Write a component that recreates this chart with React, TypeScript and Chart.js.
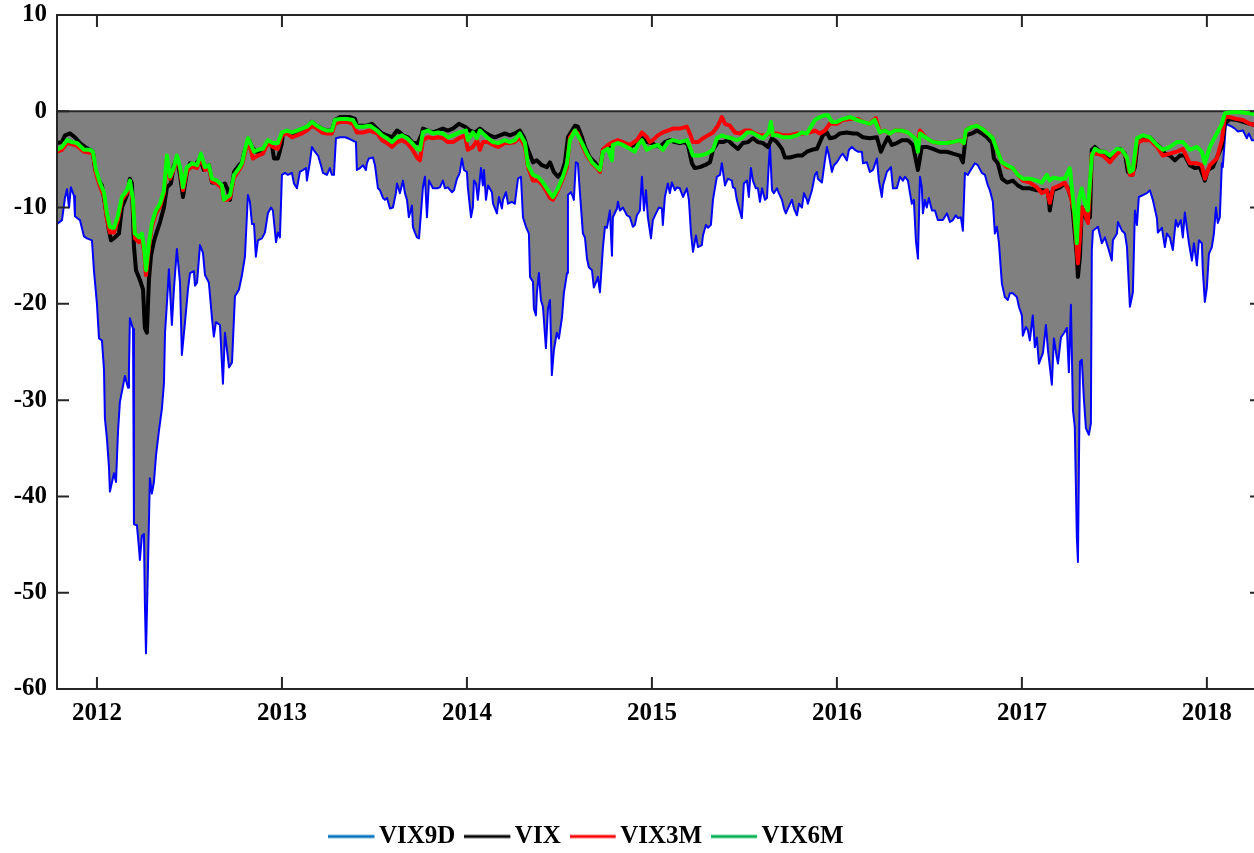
import React, { useEffect, useRef } from 'react';
import { Chart, registerables } from 'chart.js';

Chart.register(...registerables);

const SERIES_NAMES = ['VIX9D', 'VIX', 'VIX3M', 'VIX6M'];
const YEAR_TICKS = [2012, 2013, 2014, 2015, 2016, 2017, 2018];
const VALUE_TICKS = [-60, -50, -40, -30, -20, -10, 0, 10];
const X_MIN = 2011.784;
const X_MAX = 2018.298;

// [decimal year, value]
const VIX9D: [number, number][] = [
  [2011.784,-11.7],[2011.811,-11.3],[2011.827,-9.0],[2011.838,-8.1],[2011.849,-10],[2011.859,-7.9],[2011.876,-8.8],[2011.881,-10.9],[2011.908,-11.3],[2011.930,-13],[2011.946,-13.2],[2011.973,-13.4],[2011.984,-16.6],
  [2012.000,-20],[2012.011,-23.6],[2012.027,-23.8],[2012.038,-26.8],[2012.043,-31.9],[2012.054,-34],[2012.065,-37],[2012.070,-39.5],[2012.092,-37.6],[2012.103,-38.5],[2012.114,-33.2],[2012.124,-30.2],[2012.135,-29.1],[2012.151,-27.5],[2012.168,-28.7],[2012.173,-26.8],[2012.178,-21.5],[2012.195,-22.6],[2012.200,-42.9],[2012.216,-43],[2012.227,-45.3],[2012.232,-46.6],[2012.243,-44.1],[2012.254,-43.9],[2012.259,-51],[2012.265,-56.3],[2012.276,-47.1],[2012.286,-38.1],[2012.297,-39.7],[2012.308,-38.5],[2012.319,-35.8],[2012.335,-33.2],[2012.351,-30.9],[2012.362,-28.3],[2012.368,-23],[2012.378,-20],[2012.389,-16.4],[2012.395,-18.5],[2012.405,-22.2],[2012.416,-18.5],[2012.432,-14.3],[2012.449,-17.8],[2012.459,-25.3],[2012.476,-21.9],[2012.492,-18.5],[2012.503,-16.8],[2012.524,-16.6],[2012.530,-18.1],[2012.541,-17.8],[2012.557,-13.9],[2012.573,-14.7],[2012.584,-17],[2012.605,-17.8],[2012.622,-21.5],[2012.632,-23.4],[2012.643,-21.9],[2012.665,-22.2],[2012.681,-28.3],[2012.692,-23],[2012.714,-26.6],[2012.730,-26.1],[2012.746,-19.2],[2012.768,-18.5],[2012.784,-17],[2012.800,-15.1],[2012.816,-8.7],[2012.827,-9.4],[2012.838,-11.7],[2012.849,-11.7],[2012.859,-15.1],[2012.870,-13.4],[2012.892,-13.2],[2012.908,-12.6],[2012.924,-10.6],[2012.941,-10],[2012.951,-10.3],[2012.968,-13.6],[2012.978,-12.6],[2012.989,-13.1],
  [2013.000,-6.6],[2013.016,-6.4],[2013.032,-6.6],[2013.054,-6.4],[2013.065,-7.5],[2013.081,-8],[2013.097,-6.3],[2013.114,-6.1],[2013.130,-5.9],[2013.135,-7.2],[2013.151,-5.3],[2013.162,-3.7],[2013.178,-4.2],[2013.195,-4.6],[2013.211,-5.6],[2013.222,-6.4],[2013.243,-6.6],[2013.259,-5.9],[2013.270,-6.6],[2013.281,-6.6],[2013.292,-2.8],[2013.314,-2.7],[2013.341,-2.7],[2013.357,-2.8],[2013.378,-3.0],[2013.400,-3.2],[2013.405,-6.1],[2013.422,-5.9],[2013.438,-5.6],[2013.454,-6.1],[2013.459,-5.4],[2013.470,-4.9],[2013.492,-4.8],[2013.503,-5.6],[2013.519,-8],[2013.530,-8.2],[2013.546,-9.0],[2013.557,-9.2],[2013.568,-9.0],[2013.584,-10.1],[2013.600,-10],[2013.616,-8.5],[2013.622,-7.5],[2013.638,-8.5],[2013.654,-7.2],[2013.665,-8.5],[2013.676,-9.2],[2013.686,-11],[2013.703,-9.8],[2013.708,-12],[2013.719,-12.6],[2013.730,-13.1],[2013.741,-13.2],[2013.757,-9.2],[2013.762,-7.9],[2013.773,-6.8],[2013.784,-11],[2013.795,-7.2],[2013.816,-8],[2013.838,-8],[2013.854,-7.9],[2013.870,-7.2],[2013.881,-8],[2013.897,-7.9],[2013.919,-8.4],[2013.930,-8.2],[2013.946,-7.0],[2013.957,-6.6],[2013.962,-6.3],[2013.973,-4.9],[2013.984,-6.1],
  [2014.000,-6.3],[2014.005,-7.9],[2014.022,-11],[2014.032,-10],[2014.038,-7.2],[2014.049,-7.5],[2014.059,-9.2],[2014.076,-5.9],[2014.086,-7.7],[2014.092,-6.1],[2014.103,-9.2],[2014.114,-7.7],[2014.135,-8.4],[2014.141,-9.6],[2014.162,-10.6],[2014.173,-8.9],[2014.189,-10.1],[2014.195,-9.2],[2014.211,-8.4],[2014.222,-9.6],[2014.243,-9.4],[2014.259,-9.6],[2014.276,-7.0],[2014.292,-6.8],[2014.303,-11],[2014.319,-12],[2014.335,-12.7],[2014.341,-17.2],[2014.357,-17.7],[2014.362,-20.5],[2014.373,-21.2],[2014.378,-18.9],[2014.389,-16.8],[2014.400,-19.6],[2014.411,-20.3],[2014.427,-24.6],[2014.438,-20.5],[2014.449,-19.6],[2014.459,-27.4],[2014.470,-24.8],[2014.486,-23],[2014.497,-23.6],[2014.514,-21.4],[2014.524,-18.9],[2014.541,-16.8],[2014.546,-8.7],[2014.562,-8.4],[2014.573,-8.9],[2014.578,-9.2],[2014.589,-5.3],[2014.600,-5.4],[2014.611,-8.5],[2014.627,-12.7],[2014.638,-13.1],[2014.649,-15.3],[2014.659,-16.2],[2014.676,-16.5],[2014.686,-18.3],[2014.703,-17.5],[2014.708,-17.2],[2014.719,-18.8],[2014.735,-14.2],[2014.746,-12],[2014.757,-12.1],[2014.773,-10.3],[2014.784,-15],[2014.789,-11],[2014.811,-10.1],[2014.816,-9.4],[2014.827,-10.3],[2014.843,-10],[2014.865,-10.8],[2014.881,-11],[2014.897,-12],[2014.908,-11.8],[2014.919,-10.8],[2014.935,-10.3],[2014.946,-6.8],[2014.957,-10.3],[2014.968,-8.2],[2014.978,-11],[2014.995,-13.2],
  [2015.005,-11.3],[2015.022,-10.6],[2015.038,-10],[2015.054,-10.1],[2015.059,-11.8],[2015.070,-8.9],[2015.086,-7.5],[2015.097,-8.5],[2015.108,-7.4],[2015.124,-8.2],[2015.135,-7.9],[2015.151,-8],[2015.168,-8.9],[2015.189,-8],[2015.200,-9.2],[2015.211,-12.6],[2015.222,-14.6],[2015.238,-12.9],[2015.249,-14.1],[2015.270,-13.9],[2015.276,-12.9],[2015.292,-11.8],[2015.303,-12.1],[2015.319,-11.8],[2015.330,-9.2],[2015.351,-6.8],[2015.368,-6.6],[2015.378,-5.4],[2015.395,-7.7],[2015.411,-7.0],[2015.432,-7.2],[2015.438,-7.9],[2015.449,-8],[2015.459,-9.2],[2015.470,-10],[2015.486,-11.1],[2015.497,-7.5],[2015.514,-7.2],[2015.524,-8.9],[2015.535,-5.9],[2015.546,-7.2],[2015.562,-8],[2015.573,-8],[2015.584,-9.4],[2015.595,-8],[2015.611,-9.2],[2015.622,-9.0],[2015.632,-5.4],[2015.638,-3.5],[2015.649,-8.2],[2015.659,-8.5],[2015.676,-8],[2015.686,-8.5],[2015.703,-9.2],[2015.714,-10.1],[2015.724,-10.6],[2015.735,-10.1],[2015.757,-9.2],[2015.768,-10.1],[2015.784,-10.8],[2015.795,-9.6],[2015.811,-10],[2015.822,-8.5],[2015.838,-9.2],[2015.843,-9.6],[2015.865,-8.2],[2015.881,-6.6],[2015.892,-6.3],[2015.897,-7.0],[2015.919,-7.4],[2015.930,-5.8],[2015.946,-3.7],[2015.957,-4.6],[2015.973,-6.3],[2015.984,-5.6],
  [2016.000,-5.3],[2016.022,-4.6],[2016.032,-4.4],[2016.054,-5.1],[2016.065,-4.0],[2016.081,-3.7],[2016.097,-4.0],[2016.114,-4.2],[2016.135,-4.2],[2016.141,-5.4],[2016.162,-5.3],[2016.178,-6.3],[2016.195,-6.1],[2016.216,-4.9],[2016.227,-7.2],[2016.243,-8.9],[2016.249,-7.7],[2016.270,-6.3],[2016.292,-5.8],[2016.303,-8],[2016.324,-8],[2016.341,-6.8],[2016.357,-7.2],[2016.368,-6.8],[2016.384,-7.2],[2016.395,-8.5],[2016.405,-9.6],[2016.416,-9.2],[2016.427,-13.4],[2016.438,-15.3],[2016.449,-6.8],[2016.459,-7.9],[2016.465,-10.6],[2016.476,-9.2],[2016.486,-10],[2016.497,-9.0],[2016.514,-10.3],[2016.530,-10.3],[2016.546,-11.3],[2016.573,-11.3],[2016.595,-10.6],[2016.611,-11.5],[2016.627,-11.3],[2016.643,-10.8],[2016.654,-11.1],[2016.670,-11],[2016.681,-12.4],[2016.692,-6.4],[2016.708,-6.6],[2016.730,-5.9],[2016.746,-5.4],[2016.762,-5.6],[2016.784,-6.4],[2016.800,-6.6],[2016.816,-7.7],[2016.827,-8.2],[2016.843,-9.4],[2016.854,-12.7],[2016.865,-12],[2016.876,-13.7],[2016.892,-17.9],[2016.908,-19.3],[2016.924,-19.6],[2016.935,-18.9],[2016.951,-18.9],[2016.973,-19.3],[2016.984,-20.3],
  [2017.000,-21.2],[2017.005,-23.3],[2017.022,-22.4],[2017.032,-22.7],[2017.043,-23.8],[2017.059,-21.2],[2017.070,-24.5],[2017.081,-23.5],[2017.092,-26.2],[2017.114,-25.1],[2017.130,-22.2],[2017.141,-24.8],[2017.162,-28.4],[2017.173,-23.6],[2017.189,-25.6],[2017.195,-26.2],[2017.211,-23.5],[2017.232,-22.9],[2017.243,-22.5],[2017.254,-27.1],[2017.265,-20.1],[2017.276,-31],[2017.286,-32.8],[2017.297,-44.2],[2017.303,-46.8],[2017.314,-26],[2017.324,-25.8],[2017.335,-29.8],[2017.346,-32.9],[2017.362,-33.6],[2017.373,-32.4],[2017.378,-14.4],[2017.384,-12.4],[2017.411,-12],[2017.432,-13.7],[2017.449,-13.1],[2017.465,-14.1],[2017.486,-15.5],[2017.492,-13.4],[2017.514,-12.7],[2017.519,-11.5],[2017.541,-12.4],[2017.557,-12.7],[2017.568,-14.1],[2017.584,-20.3],[2017.600,-18.8],[2017.611,-10.3],[2017.622,-11.8],[2017.632,-8.9],[2017.654,-8.7],[2017.676,-8.5],[2017.692,-8.2],[2017.708,-9.2],[2017.730,-11.1],[2017.735,-12.6],[2017.757,-12.1],[2017.773,-14.1],[2017.784,-12.7],[2017.800,-13.1],[2017.816,-14.4],[2017.832,-11.3],[2017.843,-12],[2017.859,-11.3],[2017.870,-13.1],[2017.881,-10.5],[2017.892,-12.1],[2017.903,-13.7],[2017.919,-15.5],[2017.930,-13.7],[2017.946,-16],[2017.957,-13.4],[2017.973,-13.7],[2017.978,-16.5],[2017.989,-19.8],
  [2018.000,-18.3],[2018.011,-14.8],[2018.027,-14.1],[2018.038,-12.7],[2018.049,-10],[2018.059,-11.6],[2018.070,-11],[2018.081,-5.4],[2018.086,-5.8],[2018.103,-1.3],[2018.114,-1.4],[2018.135,-1.6],[2018.151,-1.8],[2018.168,-2.1],[2018.195,-2],[2018.216,-2.8],[2018.227,-2.3],[2018.243,-3.0],[2018.254,-3.0],[2018.298,-3.1]
];

const VIX: [number, number][] = [
  [2011.784,-3.3],[2011.811,-3.2],[2011.827,-2.5],[2011.854,-2.3],[2011.881,-2.7],[2011.908,-3.3],[2011.935,-3.7],[2011.962,-4.0],[2011.978,-4.2],[2011.989,-5.9],
  [2012.011,-7.2],[2012.027,-7.7],[2012.043,-9.6],[2012.065,-12.4],[2012.076,-13.4],[2012.097,-13.1],[2012.119,-12.7],[2012.135,-10],[2012.162,-8.7],[2012.178,-7.0],[2012.189,-7.5],[2012.200,-14],[2012.211,-16.5],[2012.232,-17.5],[2012.249,-18.5],[2012.259,-22.5],[2012.270,-23],[2012.281,-17.5],[2012.292,-15],[2012.308,-13.5],[2012.324,-12.5],[2012.341,-11.5],[2012.362,-10],[2012.378,-7.9],[2012.400,-7.5],[2012.416,-5.6],[2012.432,-4.9],[2012.449,-6.6],[2012.465,-8.9],[2012.486,-6.3],[2012.503,-5.4],[2012.530,-5.6],[2012.557,-4.9],[2012.578,-6.1],[2012.605,-5.6],[2012.622,-7.4],[2012.649,-7.4],[2012.676,-7.7],[2012.692,-7.5],[2012.708,-8.2],[2012.719,-9.2],[2012.741,-6.3],[2012.768,-5.6],[2012.784,-5.3],[2012.800,-4.0],[2012.822,-3.0],[2012.838,-3.7],[2012.859,-4.2],[2012.870,-4.2],[2012.897,-4.0],[2012.924,-3.2],[2012.946,-3.5],[2012.957,-4.9],[2012.978,-4.9],
  [2013.000,-3.3],[2013.005,-2.3],[2013.032,-2.2],[2013.059,-2.3],[2013.086,-2.0],[2013.114,-1.8],[2013.141,-1.6],[2013.162,-1.1],[2013.189,-1.5],[2013.216,-1.8],[2013.243,-2.0],[2013.270,-2.0],[2013.286,-0.9],[2013.314,-0.6],[2013.341,-0.6],[2013.368,-0.6],[2013.395,-0.8],[2013.405,-1.5],[2013.432,-1.5],[2013.459,-1.5],[2013.486,-1.3],[2013.514,-1.8],[2013.541,-2.3],[2013.568,-2.5],[2013.595,-2.7],[2013.622,-2.0],[2013.638,-2.2],[2013.654,-2.5],[2013.681,-2.7],[2013.708,-3.3],[2013.735,-3.3],[2013.757,-2.3],[2013.762,-1.8],[2013.789,-2.0],[2013.816,-2.2],[2013.843,-2.0],[2013.870,-1.8],[2013.897,-2.0],[2013.924,-1.8],[2013.957,-1.3],[2013.989,-1.6],
  [2014.016,-2.0],[2014.043,-2.2],[2014.070,-1.8],[2014.097,-2.2],[2014.124,-2.5],[2014.151,-2.7],[2014.178,-2.5],[2014.205,-2.3],[2014.232,-2.5],[2014.259,-2.3],[2014.286,-2.0],[2014.308,-2.7],[2014.330,-4.0],[2014.357,-5.3],[2014.378,-5.1],[2014.405,-5.6],[2014.432,-5.8],[2014.449,-5.3],[2014.470,-6.3],[2014.492,-6.8],[2014.514,-6.3],[2014.530,-5.3],[2014.546,-2.7],[2014.568,-2.0],[2014.584,-1.5],[2014.600,-1.6],[2014.622,-2.7],[2014.638,-3.7],[2014.665,-4.8],[2014.692,-5.3],[2014.719,-6.1],[2014.735,-4.0],[2014.762,-3.7],[2014.789,-3.3],[2014.816,-3.2],[2014.843,-3.3],[2014.881,-3.7],[2014.919,-3.3],[2014.946,-2.7],[2014.973,-3.2],
  [2015.000,-3.3],[2015.016,-3.5],[2015.043,-3.7],[2015.070,-3.2],[2015.097,-3.0],[2015.124,-3.2],[2015.151,-3.3],[2015.178,-3.2],[2015.195,-3.5],[2015.216,-5.4],[2015.232,-5.9],[2015.259,-5.8],[2015.286,-5.6],[2015.314,-5.3],[2015.330,-4.0],[2015.357,-3.2],[2015.384,-3.2],[2015.411,-3.0],[2015.438,-3.5],[2015.465,-3.9],[2015.492,-3.3],[2015.519,-3.2],[2015.546,-2.8],[2015.573,-3.2],[2015.600,-3.3],[2015.627,-3.7],[2015.649,-2.8],[2015.676,-3.2],[2015.703,-3.9],[2015.719,-4.8],[2015.746,-4.8],[2015.784,-4.6],[2015.811,-4.6],[2015.838,-4.2],[2015.865,-4.0],[2015.892,-3.9],[2015.908,-3.2],[2015.924,-2.5],[2015.946,-2.2],[2015.962,-2.8],[2015.989,-2.7],
  [2016.016,-2.3],[2016.054,-2.2],[2016.086,-2.3],[2016.108,-2.3],[2016.141,-2.7],[2016.178,-2.8],[2016.216,-2.7],[2016.238,-4.2],[2016.249,-3.7],[2016.276,-2.7],[2016.297,-3.5],[2016.324,-3.3],[2016.351,-3.0],[2016.384,-3.0],[2016.411,-3.5],[2016.438,-6.1],[2016.459,-3.7],[2016.486,-3.7],[2016.519,-3.9],[2016.557,-4.2],[2016.595,-4.2],[2016.627,-4.4],[2016.665,-4.6],[2016.681,-5.3],[2016.697,-2.5],[2016.730,-2.3],[2016.757,-2.0],[2016.784,-2.3],[2016.811,-2.7],[2016.838,-3.3],[2016.849,-4.9],[2016.870,-5.4],[2016.892,-7.0],[2016.919,-7.4],[2016.951,-7.2],[2016.978,-7.7],
  [2017.005,-8.0],[2017.043,-8.0],[2017.081,-8.2],[2017.114,-8.2],[2017.141,-8.4],[2017.151,-10.3],[2017.168,-8.2],[2017.205,-7.9],[2017.232,-7.5],[2017.249,-8],[2017.270,-9.2],[2017.286,-12.7],[2017.297,-15.1],[2017.303,-17.2],[2017.314,-15],[2017.324,-10],[2017.330,-10.3],[2017.351,-11.3],[2017.368,-11],[2017.378,-4.0],[2017.395,-3.7],[2017.422,-4.2],[2017.449,-4.2],[2017.476,-5.1],[2017.503,-4.2],[2017.530,-3.9],[2017.557,-4.4],[2017.573,-6.3],[2017.595,-6.6],[2017.611,-5.8],[2017.627,-3.0],[2017.654,-2.7],[2017.692,-2.7],[2017.719,-3.3],[2017.746,-3.7],[2017.773,-4.4],[2017.800,-4.6],[2017.827,-5.1],[2017.854,-4.6],[2017.881,-4.6],[2017.908,-5.6],[2017.935,-5.9],[2017.962,-5.8],[2017.989,-7.2],
  [2018.005,-6.1],[2018.032,-5.8],[2018.059,-4.6],[2018.081,-3.7],[2018.097,-1.3],[2018.124,-0.8],[2018.162,-0.9],[2018.195,-1.1],[2018.232,-1.3],[2018.254,-1.4],[2018.298,-1.5]
];

const VIX3M: [number, number][] = [
  [2011.784,-4.2],[2011.811,-4.0],[2011.838,-3.3],[2011.865,-3.4],[2011.892,-3.6],[2011.930,-4.2],[2011.962,-4.3],[2011.978,-4.4],[2011.995,-6.5],
  [2012.016,-7.8],[2012.038,-8.8],[2012.054,-11.2],[2012.070,-12.6],[2012.092,-12.6],[2012.114,-11.2],[2012.135,-9.2],[2012.162,-8.5],[2012.178,-7.5],[2012.195,-9.5],[2012.205,-13.2],[2012.227,-13.6],[2012.243,-13.2],[2012.254,-14.5],[2012.265,-17],[2012.281,-14.2],[2012.297,-12],[2012.319,-10.6],[2012.341,-9.9],[2012.362,-8.5],[2012.378,-5],[2012.395,-7],[2012.416,-6],[2012.432,-4.9],[2012.449,-6],[2012.465,-8.2],[2012.486,-6.2],[2012.514,-5.7],[2012.541,-5.9],[2012.562,-4.8],[2012.584,-6.1],[2012.605,-5.9],[2012.622,-7.3],[2012.649,-7.5],[2012.676,-8],[2012.686,-9.2],[2012.703,-9.2],[2012.719,-9],[2012.741,-6.9],[2012.768,-6.1],[2012.784,-5.6],[2012.800,-4.3],[2012.816,-3.2],[2012.827,-3.6],[2012.843,-4.9],[2012.870,-4.6],[2012.897,-4.4],[2012.924,-3.3],[2012.951,-3.7],[2012.978,-3.9],
  [2013.000,-2.5],[2013.027,-2.3],[2013.054,-2.7],[2013.081,-2.5],[2013.108,-2.3],[2013.135,-2.0],[2013.162,-1.5],[2013.189,-1.8],[2013.216,-2.2],[2013.243,-2.3],[2013.270,-2.3],[2013.286,-1.3],[2013.314,-1.1],[2013.351,-1.1],[2013.384,-1.3],[2013.405,-2.2],[2013.438,-2.2],[2013.476,-2.0],[2013.514,-2.3],[2013.541,-3.0],[2013.568,-3.3],[2013.595,-3.7],[2013.622,-3.2],[2013.649,-3.0],[2013.676,-3.3],[2013.703,-3.9],[2013.730,-4.8],[2013.746,-5.1],[2013.762,-3.0],[2013.789,-2.7],[2013.816,-2.8],[2013.843,-2.7],[2013.870,-2.8],[2013.897,-3.2],[2013.924,-3.2],[2013.957,-2.8],[2013.989,-2.5],
  [2014.005,-4.0],[2014.032,-3.7],[2014.054,-3.0],[2014.070,-4.0],[2014.086,-3.2],[2014.114,-3.2],[2014.141,-3.5],[2014.168,-3.7],[2014.205,-3.3],[2014.232,-3.3],[2014.259,-3.2],[2014.286,-2.7],[2014.314,-3.7],[2014.330,-5.8],[2014.357,-7.2],[2014.384,-7.2],[2014.411,-7.7],[2014.432,-8.4],[2014.449,-9.0],[2014.465,-9.2],[2014.492,-8.2],[2014.519,-7.0],[2014.541,-5.8],[2014.557,-2.7],[2014.584,-2.0],[2014.600,-2.3],[2014.622,-3.5],[2014.649,-4.6],[2014.676,-5.4],[2014.703,-5.9],[2014.719,-6.3],[2014.735,-4.0],[2014.762,-3.5],[2014.789,-3.2],[2014.816,-3.0],[2014.843,-3.2],[2014.881,-3.5],[2014.919,-3.0],[2014.946,-2.2],[2014.973,-2.7],[2014.989,-3.2],
  [2015.005,-3.0],[2015.032,-2.5],[2015.059,-2.2],[2015.086,-2.0],[2015.114,-1.8],[2015.151,-1.8],[2015.189,-1.6],[2015.205,-2.3],[2015.222,-3.2],[2015.249,-3.2],[2015.276,-2.8],[2015.303,-2.5],[2015.330,-2.2],[2015.357,-1.5],[2015.378,-0.6],[2015.395,-1.3],[2015.422,-1.5],[2015.449,-2.2],[2015.476,-2.3],[2015.503,-2.0],[2015.530,-2.0],[2015.557,-2.3],[2015.584,-2.5],[2015.611,-2.5],[2015.638,-2.3],[2015.676,-2.3],[2015.708,-2.5],[2015.746,-2.5],[2015.784,-2.3],[2015.816,-2.3],[2015.854,-2.2],[2015.881,-2.0],[2015.908,-2.3],[2015.935,-2.0],[2015.962,-1.3],
  [2016.000,-1.3],[2016.032,-0.9],[2016.070,-0.8],[2016.114,-0.8],[2016.141,-1.1],[2016.178,-1.3],[2016.211,-0.7],[2016.232,-2.2],[2016.259,-2.0],[2016.286,-2.3],[2016.314,-2.0],[2016.351,-2.0],[2016.384,-2.2],[2016.422,-2.8],[2016.438,-3.2],[2016.449,-2.0],[2016.486,-2.8],[2016.519,-3.2],[2016.557,-3.3],[2016.595,-3.3],[2016.627,-3.2],[2016.665,-3.0],[2016.686,-3.3],[2016.697,-2.0],[2016.730,-1.6],[2016.757,-1.5],[2016.784,-1.8],[2016.816,-2.3],[2016.843,-2.8],[2016.865,-4.0],[2016.892,-5.3],[2016.919,-5.8],[2016.951,-5.9],[2016.978,-6.6],
  [2017.005,-7.2],[2017.043,-7.4],[2017.081,-7.9],[2017.108,-8.5],[2017.135,-8.2],[2017.151,-9.5],[2017.168,-8],[2017.205,-7.7],[2017.232,-7.4],[2017.259,-8.5],[2017.281,-10.3],[2017.297,-14.4],[2017.303,-15.8],[2017.314,-13],[2017.324,-10],[2017.341,-10.6],[2017.357,-11.6],[2017.378,-4.4],[2017.405,-4.4],[2017.438,-4.6],[2017.476,-5.3],[2017.514,-4.4],[2017.541,-4.0],[2017.568,-4.9],[2017.584,-6.6],[2017.600,-6.6],[2017.622,-3.3],[2017.654,-3.0],[2017.692,-3.0],[2017.730,-3.7],[2017.762,-4.6],[2017.800,-4.4],[2017.838,-4.2],[2017.870,-3.9],[2017.908,-5.4],[2017.946,-5.4],[2017.973,-5.6],[2017.989,-7.0],
  [2018.016,-5.6],[2018.054,-4.9],[2018.081,-3.0],[2018.097,-0.6],[2018.124,-0.6],[2018.162,-0.8],[2018.195,-0.9],[2018.232,-1.3],[2018.254,-1.4],[2018.298,-1.6]
];

const VIX6M: [number, number][] = [
  [2011.784,-4.0],[2011.811,-3.7],[2011.838,-3.0],[2011.865,-3.2],[2011.892,-3.3],[2011.930,-4.0],[2011.962,-4.0],[2011.978,-4.2],[2011.995,-6.1],
  [2012.016,-7.4],[2012.038,-8.4],[2012.054,-10.6],[2012.070,-12],[2012.092,-12.1],[2012.114,-10.8],[2012.135,-8.9],[2012.162,-8.2],[2012.178,-7.2],[2012.195,-9.2],[2012.205,-12.7],[2012.227,-13.1],[2012.243,-12.7],[2012.254,-14.1],[2012.265,-16.5],[2012.281,-13.7],[2012.297,-11.6],[2012.319,-10.3],[2012.341,-9.6],[2012.362,-8.2],[2012.378,-4.6],[2012.395,-6.8],[2012.416,-5.8],[2012.432,-4.6],[2012.449,-5.8],[2012.465,-7.9],[2012.486,-5.8],[2012.514,-5.4],[2012.541,-5.6],[2012.562,-4.4],[2012.584,-5.8],[2012.605,-5.6],[2012.622,-7.0],[2012.649,-7.2],[2012.676,-7.7],[2012.686,-9.2],[2012.703,-8.9],[2012.719,-8.7],[2012.741,-6.6],[2012.768,-5.9],[2012.784,-5.4],[2012.800,-4.0],[2012.816,-2.8],[2012.827,-3.2],[2012.849,-4.2],[2012.870,-4.0],[2012.897,-3.9],[2012.924,-3.0],[2012.951,-3.3],[2012.978,-3.3],
  [2013.000,-2.2],[2013.027,-2.0],[2013.054,-2.2],[2013.081,-2.0],[2013.108,-1.8],[2013.135,-1.6],[2013.162,-1.1],[2013.189,-1.5],[2013.216,-1.8],[2013.243,-2.0],[2013.270,-2.0],[2013.286,-0.9],[2013.314,-0.8],[2013.351,-0.8],[2013.384,-0.9],[2013.405,-1.6],[2013.438,-1.6],[2013.476,-1.5],[2013.514,-2.0],[2013.541,-2.5],[2013.568,-2.8],[2013.595,-3.2],[2013.622,-2.7],[2013.649,-2.5],[2013.676,-2.8],[2013.703,-3.3],[2013.730,-3.9],[2013.746,-4.0],[2013.762,-2.2],[2013.789,-2.0],[2013.816,-2.3],[2013.843,-2.2],[2013.870,-2.3],[2013.897,-2.7],[2013.924,-2.5],[2013.957,-2.2],[2013.978,-2.1],[2013.995,-2.0],
  [2014.005,-3.0],[2014.032,-2.2],[2014.054,-2.8],[2014.070,-2.0],[2014.086,-2.3],[2014.114,-2.8],[2014.141,-3.2],[2014.168,-3.3],[2014.205,-3.0],[2014.232,-3.2],[2014.259,-3.0],[2014.286,-2.3],[2014.314,-3.3],[2014.330,-5.6],[2014.357,-6.6],[2014.384,-6.8],[2014.411,-7.4],[2014.432,-8],[2014.449,-8.5],[2014.465,-8.9],[2014.492,-8],[2014.519,-6.8],[2014.541,-5.4],[2014.557,-3.0],[2014.584,-2.0],[2014.600,-2.5],[2014.622,-3.3],[2014.649,-4.4],[2014.676,-5.3],[2014.703,-5.8],[2014.719,-6.1],[2014.735,-4.2],[2014.762,-3.9],[2014.784,-5.1],[2014.789,-3.5],[2014.816,-3.3],[2014.843,-3.5],[2014.881,-3.9],[2014.908,-4.2],[2014.924,-3.5],[2014.946,-3.0],[2014.973,-4.0],
  [2015.000,-3.7],[2015.032,-3.5],[2015.059,-4.0],[2015.086,-3.2],[2015.114,-3.0],[2015.151,-3.2],[2015.189,-3.0],[2015.205,-3.7],[2015.222,-4.6],[2015.259,-4.6],[2015.297,-4.4],[2015.330,-4.0],[2015.351,-2.8],[2015.378,-2.5],[2015.405,-2.7],[2015.432,-2.8],[2015.459,-3.0],[2015.486,-2.8],[2015.514,-2.2],[2015.541,-2.2],[2015.568,-2.5],[2015.600,-2.8],[2015.632,-2.2],[2015.643,-1.1],[2015.654,-2.5],[2015.681,-2.5],[2015.708,-2.7],[2015.746,-2.7],[2015.784,-2.5],[2015.811,-2.2],[2015.838,-2.3],[2015.854,-1.8],[2015.881,-0.9],[2015.908,-0.6],[2015.935,-0.4],[2015.951,-0.4],[2015.973,-1.1],
  [2016.000,-1.1],[2016.032,-0.8],[2016.070,-0.6],[2016.108,-0.9],[2016.141,-1.1],[2016.178,-1.3],[2016.205,-0.9],[2016.232,-2.2],[2016.259,-2.0],[2016.286,-2.3],[2016.314,-2.0],[2016.351,-2.0],[2016.384,-2.2],[2016.422,-2.8],[2016.438,-4.2],[2016.449,-2.3],[2016.486,-2.8],[2016.519,-3.2],[2016.557,-3.3],[2016.595,-3.3],[2016.627,-3.2],[2016.665,-3.0],[2016.686,-3.3],[2016.697,-2.0],[2016.730,-1.6],[2016.757,-1.5],[2016.784,-1.8],[2016.816,-2.3],[2016.843,-2.8],[2016.865,-4.0],[2016.892,-5.3],[2016.919,-5.6],[2016.951,-5.9],[2016.978,-6.6],
  [2017.005,-7.0],[2017.043,-7.0],[2017.081,-7.2],[2017.108,-7.4],[2017.135,-6.6],[2017.151,-7.2],[2017.168,-6.9],[2017.205,-7.0],[2017.232,-7.0],[2017.259,-5.9],[2017.270,-7.9],[2017.286,-11],[2017.297,-13.7],[2017.308,-9.2],[2017.324,-8],[2017.341,-9.6],[2017.357,-10.3],[2017.378,-4.6],[2017.395,-3.9],[2017.422,-4.2],[2017.449,-4.2],[2017.476,-4.6],[2017.514,-3.9],[2017.541,-4.0],[2017.568,-4.8],[2017.584,-6.3],[2017.600,-6.1],[2017.622,-2.8],[2017.654,-2.5],[2017.692,-2.7],[2017.730,-3.5],[2017.762,-4.0],[2017.800,-3.7],[2017.838,-3.2],[2017.870,-3.2],[2017.908,-4.0],[2017.946,-3.7],[2017.973,-4.2],[2017.989,-5.4],
  [2018.016,-3.7],[2018.054,-2.3],[2018.081,-1.3],[2018.097,-0.2],[2018.135,-0.1],[2018.178,-0.1],[2018.232,-0.2],[2018.254,-0.3],[2018.298,-0.4]
];

const LINE_COLORS = ['#0000ff', '#000000', '#ff0000', '#00ff00'];
const LEGEND_COLORS = ['#0072bd', '#000000', '#ff0000', '#00b050'];

export default function App() {
  const ref = useRef<HTMLCanvasElement>(null);

  useEffect(() => {
    const canvas = ref.current;
    if (!canvas) return;
    const FONT_FAMILY = '"Liberation Serif", "Times New Roman", serif';
    const font = { family: FONT_FAMILY, size: 25, weight: 'bold' as const };
    const AXIS_COLOR = '#262626';

    const makeSwatch = (color: string) => {
      const c = document.createElement('canvas');
      c.width = 56;
      c.height = 8;
      const g = c.getContext('2d')!;
      g.strokeStyle = color;
      g.lineWidth = 3;
      g.beginPath();
      g.moveTo(0, 4);
      g.lineTo(46, 4);
      g.stroke();
      return c;
    };
    const swatches = LEGEND_COLORS.map(makeSwatch);

    const toPts = (arr: [number, number][]) => arr.map(([x, y]) => ({ x, y }));

    const framePlugin = {
      id: 'frame',
      beforeDatasetsDraw(chart: any) {
        const { ctx, chartArea, scales } = chart;
        const y0 = scales.y.getPixelForValue(0);
        ctx.save();
        ctx.strokeStyle = AXIS_COLOR;
        ctx.lineWidth = 2;
        ctx.beginPath();
        ctx.moveTo(chartArea.left, y0);
        ctx.lineTo(chartArea.right, y0);
        ctx.stroke();
        ctx.restore();
      },
      afterDatasetsDraw(chart: any) {
        const { ctx, chartArea, scales } = chart;
        const { left, right, top, bottom } = chartArea;
        ctx.save();
        ctx.strokeStyle = AXIS_COLOR;
        ctx.lineWidth = 2;
        ctx.strokeRect(left, top, right - left, bottom - top);
        ctx.beginPath();
        const tl = 12;
        for (const t of scales.x.ticks) {
          const px = scales.x.getPixelForValue(t.value);
          ctx.moveTo(px, bottom);
          ctx.lineTo(px, bottom - tl);
          ctx.moveTo(px, top);
          ctx.lineTo(px, top + tl);
        }
        for (const t of scales.y.ticks) {
          const py = scales.y.getPixelForValue(t.value);
          ctx.moveTo(left, py);
          ctx.lineTo(left + tl, py);
          ctx.moveTo(right, py);
          ctx.lineTo(right - tl, py);
        }
        ctx.stroke();
        ctx.restore();
      },
    };

    const legendShift = {
      id: 'legendShift',
      afterLayout(chart: any) {
        const l = chart.legend;
        if (l) {
          l.left -= 36;
          l.right -= 36;
        }
      },
    };

    const series = [VIX9D, VIX, VIX3M, VIX6M];
    const widths = [2, 4, 4, 4];
    const orders = [4, 3, 2, 1];

    const chart = new Chart(canvas, {
      type: 'line',
      data: {
        datasets: series.map((s, i) => ({
          label: SERIES_NAMES[i],
          data: toPts(s),
          borderColor: LINE_COLORS[i],
          borderWidth: widths[i],
          backgroundColor: i === 0 ? '#808080' : LINE_COLORS[i],
          fill: i === 0 ? 'origin' : false,
          order: orders[i],
          pointRadius: 0,
          tension: 0,
          borderJoinStyle: 'round' as const,
        })),
      },
      options: {
        responsive: false,
        animation: false,
        layout: { padding: { top: 15, left: 0, right: 0, bottom: 0 } },
        scales: {
          x: {
            type: 'linear',
            min: X_MIN,
            max: X_MAX,
            grid: { display: false, drawTicks: false },
            border: { display: false },
            afterBuildTicks: (s: any) => {
              s.ticks = YEAR_TICKS.map((v) => ({ value: v }));
            },
            afterFit: (s: any) => {
              s.height = 108;
              s.paddingLeft = 0;
              s.paddingRight = 0;
            },
            ticks: {
              font,
              color: '#000',
              padding: 10,
              maxRotation: 0,
              autoSkip: false,
              callback: (v: any) => String(v),
            },
          },
          y: {
            type: 'linear',
            min: -60,
            max: 10,
            grid: { display: false, drawTicks: false },
            border: { display: false },
            afterBuildTicks: (s: any) => {
              s.ticks = VALUE_TICKS.map((v) => ({ value: v }));
            },
            afterFit: (s: any) => {
              s.width = 57;
              s.paddingTop = 0;
              s.paddingBottom = 0;
            },
            ticks: {
              font,
              color: '#000',
              padding: 10,
              callback: (v: any) => String(v),
            },
          },
        },
        plugins: {
          filler: { drawTime: 'beforeDatasetsDraw' },
          tooltip: { enabled: false },
          legend: {
            position: 'bottom',
            align: 'center',
            labels: {
              usePointStyle: true,
              pointStyleWidth: 20,
              boxHeight: 8,
              padding: 27,
              font,
              color: '#000',
              generateLabels: () =>
                SERIES_NAMES.map((name, i) => ({
                  text: name,
                  pointStyle: swatches[i],
                  fillStyle: LEGEND_COLORS[i],
                  strokeStyle: LEGEND_COLORS[i],
                  lineWidth: 0,
                  hidden: false,
                  datasetIndex: i,
                  fontColor: '#000',
                })),
            },
          },
        },
      },
      plugins: [framePlugin, legendShift],
    } as any);

    return () => chart.destroy();
  }, []);

  return (
    <div style={{ position: 'fixed', left: 0, top: 0, width: 1254, height: 853, overflow: 'hidden', background: '#fff' }}>
      <canvas ref={ref} width={1262} height={859} style={{ display: 'block' }} />
    </div>
  );
}
